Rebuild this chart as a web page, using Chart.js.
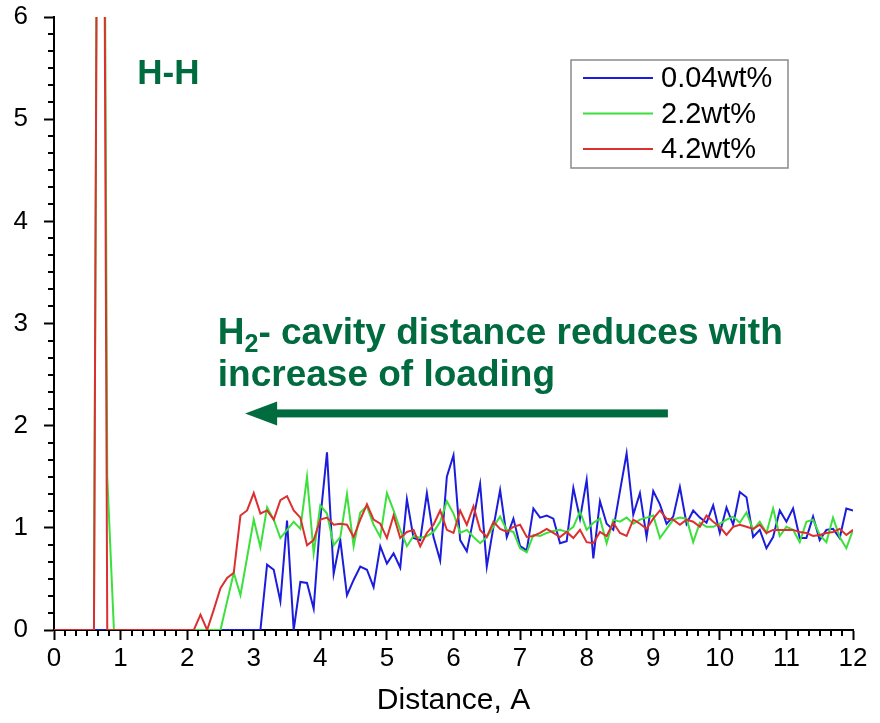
<!DOCTYPE html>
<html>
<head>
<meta charset="utf-8">
<script src="https://cdn.jsdelivr.net/npm/chart.js@4.4.1/dist/chart.umd.min.js"></script>
<style>
  html, body { margin: 0; padding: 0; background: #fff; }
  #wrap { width: 880px; height: 723px; }
</style>
</head>
<body>
<div id="wrap"><canvas id="rdf"></canvas></div>
<script>
// radial distribution H-H, three loadings, step 0.1 A
const distance = [
  0, 0.1, 0.2, 0.3, 0.4, 0.5, 0.6, 0.7, 0.8, 0.9,
  1, 1.1, 1.2, 1.3, 1.4, 1.5, 1.6, 1.7, 1.8, 1.9,
  2, 2.1, 2.2, 2.3, 2.4, 2.5, 2.6, 2.7, 2.8, 2.9,
  3, 3.1, 3.2, 3.3, 3.4, 3.5, 3.6, 3.7, 3.8, 3.9,
  4, 4.1, 4.2, 4.3, 4.4, 4.5, 4.6, 4.7, 4.8, 4.9,
  5, 5.1, 5.2, 5.3, 5.4, 5.5, 5.6, 5.7, 5.8, 5.9,
  6, 6.1, 6.2, 6.3, 6.4, 6.5, 6.6, 6.7, 6.8, 6.9,
  7, 7.1, 7.2, 7.3, 7.4, 7.5, 7.6, 7.7, 7.8, 7.9,
  8, 8.1, 8.2, 8.3, 8.4, 8.5, 8.6, 8.7, 8.8, 8.9,
  9, 9.1, 9.2, 9.3, 9.4, 9.5, 9.6, 9.7, 9.8, 9.9,
  10, 10.1, 10.2, 10.3, 10.4, 10.5, 10.6, 10.7, 10.8, 10.9,
  11, 11.1, 11.2, 11.3, 11.4, 11.5, 11.6, 11.7, 11.8, 11.9,
  12
];

const load004 = [
  0, 0, 0, 0, 0, 0, 0, 0, 0, 0,
  0, 0, 0, 0, 0, 0, 0, 0, 0, 0,
  0, 0, 0, 0, 0, 0, 0, 0, 0, 0,
  0, 0, 0.64, 0.59, 0.28, 1.07, 0, 0.47, 0.46, 0.21,
  1.09, 1.74, 0.55, 0.88, 0.34, 0.49, 0.62, 0.59, 0.42, 0.82,
  0.65, 0.75, 0.61, 1.28, 0.90, 0.88, 1.34, 0.91, 0.68, 1.50,
  1.71, 0.88, 0.77, 1.09, 1.43, 0.62, 1.01, 1.37, 0.91, 1.09,
  0.82, 0.78, 1.19, 1.10, 1.12, 1.09, 0.85, 0.87, 1.39, 1.09,
  1.47, 0.70, 1.26, 1.04, 0.98, 1.36, 1.73, 1.13, 1.34, 0.91,
  1.36, 1.23, 1.04, 1.11, 1.40, 1.04, 1.17, 1.10, 1.05, 1.22,
  0.95, 1.20, 1.03, 1.35, 1.30, 0.91, 0.98, 0.80, 0.91, 1.17,
  1.06, 1.19, 0.90, 0.90, 1.11, 0.88, 0.98, 0.99, 0.90, 1.19,
  1.17
];

const load22 = [
  0, 0, 0, 0, 0, 0, 0, 16, 1.5, 0,
  0, 0, 0, 0, 0, 0, 0, 0, 0, 0,
  0, 0, 0, 0, 0, 0, 0.28, 0.56, 0.34, 0.71,
  1.08, 0.81, 1.20, 1.08, 0.90, 0.98, 1.06, 0.99, 1.50, 0.75,
  1.22, 1.14, 0.83, 0.91, 1.33, 0.82, 1.15, 1.21, 1.03, 0.91,
  1.34, 1.17, 0.98, 0.82, 0.92, 0.90, 0.92, 0.96, 1.06, 1.26,
  1.14, 0.95, 0.98, 0.91, 0.85, 0.91, 1.01, 1.11, 0.98, 0.96,
  0.80, 0.76, 0.93, 0.92, 0.95, 0.97, 0.98, 0.96, 1.01, 1.16,
  0.98, 1.05, 1.09, 0.85, 1.08, 1.06, 1.10, 1.04, 1.08, 1.10,
  1.12, 0.90, 0.99, 1.08, 1.10, 1.09, 0.86, 1.05, 1.01, 1.01,
  1.04, 1.08, 1.11, 1.05, 1.15, 0.98, 1.06, 0.95, 1.19, 0.92,
  1.01, 0.98, 0.86, 1.06, 1.08, 0.93, 0.86, 1.10, 0.91, 0.80,
  0.98
];

const load42 = [
  0, 0, 0, 0, 0, 0, 0, 16, 0, 0,
  0, 0, 0, 0, 0, 0, 0, 0, 0, 0,
  0, 0, 0.15, 0, 0.20, 0.41, 0.51, 0.56, 1.12, 1.17,
  1.34, 1.14, 1.17, 1.08, 1.27, 1.31, 1.17, 1.10, 0.83, 0.88,
  1.08, 1.10, 1.03, 1.04, 1.03, 0.91, 1.08, 1.23, 1.08, 1.04,
  0.90, 1.12, 0.90, 0.96, 0.98, 0.82, 0.95, 1.03, 1.17, 0.98,
  0.95, 1.17, 1.03, 1.21, 0.98, 0.91, 1.06, 0.99, 0.96, 1.01,
  1.03, 0.91, 0.92, 0.95, 0.99, 0.95, 0.91, 0.96, 0.90, 0.98,
  0.86, 0.85, 0.96, 0.92, 1.05, 0.95, 0.92, 1.08, 1.04, 0.99,
  1.09, 1.17, 1.09, 1.08, 1.03, 1.08, 1.06, 1.01, 1.12, 1.06,
  1.01, 0.93, 1.01, 1.03, 1.01, 0.99, 1.03, 0.95, 0.98, 0.98,
  0.98, 0.98, 0.96, 0.95, 0.92, 0.93, 0.95, 0.96, 0.99, 0.93,
  0.98
];

const seriesNames = ['0.04wt%', '2.2wt%', '4.2wt%'];
const seriesColors = ['#1c1cdc', '#3ce03c', '#dc2f2f'];
const noteColor = '#006b3e';
const fontFam = '"Liberation Sans", Arial, sans-serif';

function pairs(vals) {
  return distance.map((d, i) => ({ x: d, y: vals[i] }));
}

// small ticks every 1/6 unit on both axes
const minorTicks = {
  id: 'minorTicks',
  afterDraw(chart) {
    const { ctx, chartArea, scales: { x, y } } = chart;
    ctx.save();
    ctx.strokeStyle = '#000';
    ctx.lineWidth = 2;
    ctx.beginPath();
    for (let k = 0; k <= 72; k++) {
      if (k % 6 === 0) continue;
      const px = Math.round(x.getPixelForValue(k / 6));
      ctx.moveTo(px, chartArea.bottom);
      ctx.lineTo(px, chartArea.bottom + 6);
    }
    for (let k = 0; k <= 36; k++) {
      if (k % 6 === 0) continue;
      const py = Math.round(y.getPixelForValue(k / 6));
      ctx.moveTo(chartArea.left, py);
      ctx.lineTo(chartArea.left - 6, py);
    }
    ctx.stroke();
    ctx.restore();
  }
};

// green labels and arrow
const notes = {
  id: 'notes',
  afterDatasetsDraw(chart) {
    const { ctx, scales: { x, y } } = chart;
    ctx.save();
    ctx.fillStyle = noteColor;
    ctx.textBaseline = 'alphabetic';
    ctx.textAlign = 'left';

    ctx.font = 'bold 35px ' + fontFam;
    ctx.fillText('H-H', x.getPixelForValue(1.25), y.getPixelForValue(5.34));

    let tx = x.getPixelForValue(2.46);
    const b1 = y.getPixelForValue(2.80);
    ctx.font = 'bold 37px ' + fontFam;
    ctx.fillText('H', tx, b1);
    tx += ctx.measureText('H').width;
    ctx.font = 'bold 25px ' + fontFam;
    ctx.fillText('2', tx, b1 + 8);
    tx += ctx.measureText('2').width;
    ctx.font = 'bold 37px ' + fontFam;
    ctx.fillText('- cavity distance reduces with', tx, b1);
    ctx.fillText('increase of loading', x.getPixelForValue(2.46), y.getPixelForValue(2.39));

    // arrow pointing left
    const ay = y.getPixelForValue(2.12);
    const tip = x.getPixelForValue(2.87);
    const tail = x.getPixelForValue(9.22);
    ctx.fillRect(tip + 28, ay - 4, tail - tip - 28, 8);
    ctx.beginPath();
    ctx.moveTo(tip, ay);
    ctx.lineTo(tip + 32, ay - 12);
    ctx.lineTo(tip + 32, ay + 12);
    ctx.closePath();
    ctx.fill();
    ctx.restore();
  }
};

// boxed legend inside the plot
const legendBox = {
  id: 'legendBox',
  afterDraw(chart) {
    const { ctx, chartArea } = chart;
    const left = chartArea.right - 282;
    const top = chartArea.top + 43;
    ctx.save();
    ctx.fillStyle = '#fff';
    ctx.fillRect(left, top, 217, 108);
    ctx.strokeStyle = '#8a8a8a';
    ctx.lineWidth = 1.5;
    ctx.strokeRect(left, top, 217, 108);
    ctx.font = '29px ' + fontFam;
    ctx.textBaseline = 'middle';
    ctx.textAlign = 'left';
    chart.data.datasets.forEach((ds, i) => {
      const ry = top + 18 + i * 35.5;
      ctx.strokeStyle = ds.borderColor;
      ctx.lineWidth = 2;
      ctx.beginPath();
      ctx.moveTo(left + 12, ry);
      ctx.lineTo(left + 82, ry);
      ctx.stroke();
      ctx.fillStyle = '#000';
      ctx.fillText(ds.label, left + 90, ry + 1);
    });
    ctx.restore();
  }
};

const ctx = document.getElementById('rdf').getContext('2d');
const rdfChart = new Chart(ctx, {
  type: 'line',
  data: {
    datasets: [
      { label: seriesNames[0], data: pairs(load004), borderColor: seriesColors[0], order: 3 },
      { label: seriesNames[1], data: pairs(load22), borderColor: seriesColors[1], order: 2 },
      { label: seriesNames[2], data: pairs(load42), borderColor: seriesColors[2], order: 1 }
    ]
  },
  options: {
    responsive: true,
    maintainAspectRatio: false,
    animation: false,
    elements: {
      line: { borderWidth: 2, tension: 0, fill: false },
      point: { radius: 0 }
    },
    layout: { padding: { top: 17, right: 27, left: 0, bottom: 0 } },
    plugins: {
      legend: { display: false },
      tooltip: { enabled: false }
    },
    scales: {
      x: {
        type: 'linear',
        min: 0,
        max: 12,
        afterFit(scale) {
          scale.height = 93;
          scale.paddingLeft = 0;
          scale.paddingRight = 0;
        },
        ticks: {
          stepSize: 1,
          color: '#000',
          padding: 3,
          font: { family: fontFam, size: 26 }
        },
        grid: { drawOnChartArea: false, tickLength: 10, tickColor: '#000', tickWidth: 2 },
        border: { display: true, color: '#000', width: 2 },
        title: {
          display: true,
          text: 'Distance, A',
          color: '#000',
          font: { family: fontFam, size: 30 },
          padding: { top: 0, bottom: 4 }
        }
      },
      y: {
        type: 'linear',
        min: 0,
        max: 6,
        afterFit(scale) {
          scale.width = 54;
          scale.paddingTop = 0;
          scale.paddingBottom = 0;
        },
        ticks: {
          stepSize: 1,
          color: '#000',
          padding: 16,
          font: { family: fontFam, size: 26 }
        },
        grid: { drawOnChartArea: false, tickLength: 10, tickColor: '#000', tickWidth: 2 },
        border: { display: true, color: '#000', width: 2 }
      }
    }
  },
  plugins: [minorTicks, notes, legendBox]
});
</script>
</body>
</html>
